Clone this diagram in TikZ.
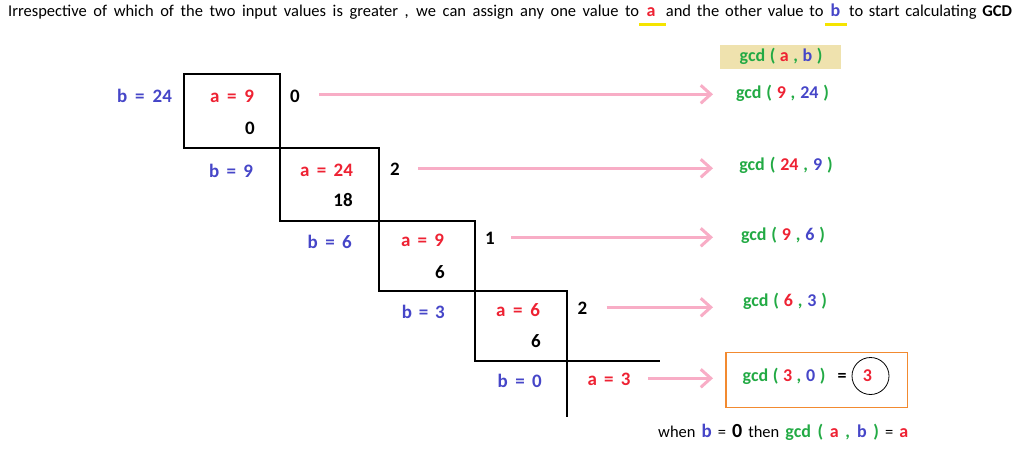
\documentclass[tikz,border=0pt]{standalone}
\usepackage{fontspec}
\setmainfont{Carlito}
\usetikzlibrary{arrows.meta}
\definecolor{cb}{HTML}{4646C8}
\definecolor{cr}{HTML}{EE2233}
\definecolor{cg}{HTML}{22AA44}
\definecolor{cpink}{HTML}{F8ADC6}
\definecolor{ctan}{HTML}{EFE2AE}
\definecolor{corange}{HTML}{F28A30}
\definecolor{cyel}{HTML}{F5E400}
\newcommand\fitw[2]{\makebox[#1pt][s]{#2}}
\newcommand\gcdl[3]{\makebox[#1pt][s]{\textcolor{cg}{gcd (} \textcolor{cr}{#2} \textcolor{cg}{,} \textcolor{cb}{#3} \textcolor{cg}{)}}}
\begin{document}
\begin{tikzpicture}[x=1pt,y=-1pt,
  lbl/.style={anchor=base, inner sep=0pt, font=\fontsize{19}{22}\selectfont\bfseries},
  glbl/.style={anchor=base, inner sep=0pt, font=\fontsize{18}{21}\selectfont\bfseries},
  toptxt/.style={anchor=base west, inner sep=0pt, font=\fontsize{16.5}{19}\selectfont},
  boxline/.style={line width=1.3pt, black},
  parrow/.style={line width=3pt, cpink, -{Straight Barb[length=10pt,width=18pt]}}]
\useasboundingbox (0,0) rectangle (1020,452);
% top sentence
\node[toptxt] (t1) at (8,16.7) {\fitw{631}{Irrespective of which of the two input values is greater , we can assign any one value to}};
\node[lbl, font=\fontsize{18}{21}\selectfont\bfseries, text=cr] (ta) at (651,16.7) {a};
\node[toptxt] (t2) at (665.7,16.7) {\fitw{157.6}{and the other value to}};
\node[lbl, font=\fontsize{18}{21}\selectfont\bfseries, text=cb] (tb) at (835.5,16.7) {b};
\node[toptxt] (t3) at (849,16.7) {\fitw{162.7}{to start calculating \textbf{GCD}}};
\draw[cyel, line width=2.5pt] (639,24.3) -- (665.7,24.3);
\draw[cyel, line width=2.5pt] (825,24.3) -- (846.7,24.3);
% boxes
\draw[boxline] (184,74) rectangle (280,148);
\draw[boxline] (280,148) rectangle (379,221);
\draw[boxline] (379,221) rectangle (475,291);
\draw[boxline] (475,291) rectangle (567,361);
\draw[boxline] (567,361) -- (660,361);
\draw[boxline] (567,361) -- (567,416.5);
% row 1
\node[lbl, text=cb] (b1) at (144.5,102.7) {\fitw{55}{b = 24}};
\node[lbl, text=cr] (a1) at (232,102.7) {\fitw{44}{a = 9}};
\node[lbl] (q1) at (295,102.7) {0};
\node[lbl] (r1) at (250,134.6) {0};
% row 2
\node[lbl, text=cb] (b2) at (231,177.4) {\fitw{44}{b = 9}};
\node[lbl, text=cr] (a2) at (326.5,176.6) {\fitw{53}{a = 24}};
\node[lbl] (q2) at (395,175) {2};
\node[lbl] (r2) at (343,206.8) {18};
% row 3
\node[lbl, text=cb] (b3) at (329.7,248.3) {\fitw{44}{b = 6}};
\node[lbl, text=cr] (a3) at (422.5,246.3) {\fitw{43}{a = 9}};
\node[lbl] (q3) at (490,244.1) {1};
\node[lbl] (r3) at (440,278.3) {6};
% row 4
\node[lbl, text=cb] (b4) at (423.3,318.3) {\fitw{43}{b = 3}};
\node[lbl, text=cr] (a4) at (518,316) {\fitw{44}{a = 6}};
\node[lbl] (q4) at (582.5,314.1) {2};
\node[lbl] (r4) at (536,347.3) {6};
% row 5
\node[lbl, text=cb] (b5) at (519.7,387.3) {\fitw{44}{b = 0}};
\node[lbl, text=cr] (a5) at (609,385.3) {\fitw{43}{a = 3}};
% arrows
\coordinate (s1) at (319,94.3); \coordinate (e1) at (713,94.3);
\coordinate (s2) at (418,168.3); \coordinate (e2) at (713,168.3);
\coordinate (s3) at (511,237.3); \coordinate (e3) at (713,237.3);
\coordinate (s4) at (606.7,307.3); \coordinate (e4) at (713,307.3);
\coordinate (s5) at (648.3,378.3); \coordinate (e5) at (713,378.3);
\foreach \i in {1,...,5} \draw[parrow] (s\i) -- (e\i);
% right column
\fill[ctan] (720,45) rectangle (841,69.3);
\node[glbl] (g0) at (781,61.7) {\gcdl{82.7}{a}{b}};
\node[glbl] (g1) at (782.5,98.3) {\gcdl{93}{9}{24}};
\node[glbl] (g2) at (786,170) {\gcdl{93.4}{24}{9}};
\node[glbl] (g3) at (783,240.7) {\gcdl{84}{9}{6}};
\node[glbl] (g4) at (785,306.7) {\gcdl{84}{6}{3}};
\draw[corange, line width=1.2pt] (726,352.3) rectangle (907.7,407.7);
\node[glbl] (g5) at (784,381.7) {\gcdl{82.7}{3}{0}};
\node[glbl] (eq) at (842,381.7) {=};
\node[circle, draw, line width=0.8pt, minimum size=37pt, inner sep=0pt] (res) at (870.5,376) {};
\node[glbl, text=cr] (r) at (867.5,381) {3};
% bottom line
\node[anchor=base west, inner sep=0pt, font=\fontsize{16.5}{19}\selectfont] (bot) at (658,437.7)
  {\fitw{250}{when \textbf{\fontsize{19}{22}\selectfont\textcolor{cb}{b}} = \textbf{\fontsize{20}{22}\selectfont 0} then \textbf{\fontsize{18}{21}\selectfont\textcolor{cg}{gcd (} \textcolor{cr}{a} \textcolor{cg}{,} \textcolor{cb}{b} \textcolor{cg}{)}} = \textbf{\fontsize{18}{21}\selectfont\textcolor{cr}{a}}}};
\end{tikzpicture}
\end{document}
